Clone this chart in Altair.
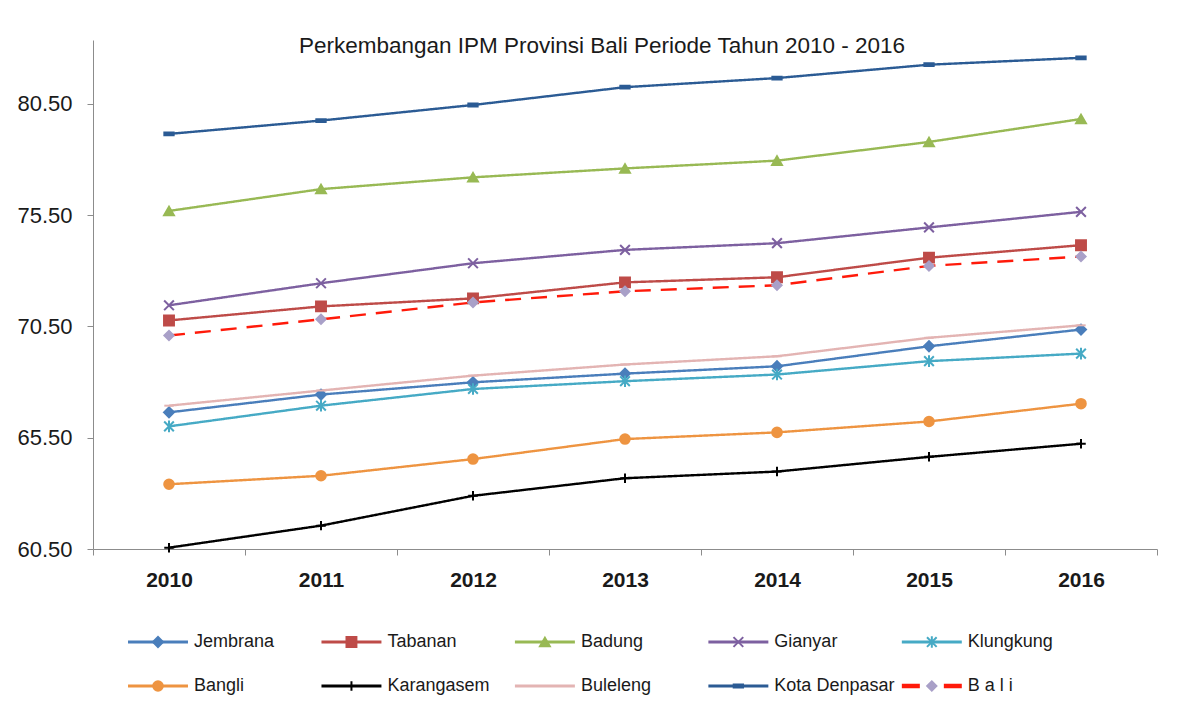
import altair as alt
import pandas as pd

# ---------------- data ----------------
years = ["2010", "2011", "2012", "2013", "2014", "2015", "2016"]
series_names = ["Jembrana", "Tabanan", "Badung", "Gianyar", "Klungkung",
                "Bangli", "Karangasem", "Buleleng", "Kota Denpasar", "B a l i"]

jembrana = [66.64, 67.44, 67.99, 68.38, 68.71, 69.61, 70.36]
tabanan = [70.77, 71.40, 71.76, 72.48, 72.71, 73.59, 74.15]
badung = [75.69, 76.67, 77.20, 77.60, 77.95, 78.79, 79.82]
gianyar = [71.45, 72.44, 73.34, 73.94, 74.24, 74.95, 75.65]
klungkung = [66.01, 66.94, 67.69, 68.04, 68.34, 68.94, 69.28]
bangli = [63.41, 63.79, 64.54, 65.44, 65.74, 66.23, 67.03]
karangasem = [60.56, 61.55, 62.89, 63.68, 63.98, 64.64, 65.23]
buleleng = [66.94, 67.62, 68.29, 68.79, 69.16, 69.99, 70.55]
kota_denpasar = [79.15, 79.75, 80.45, 81.25, 81.66, 82.26, 82.57]
bali = [70.09, 70.82, 71.58, 72.08, 72.35, 73.22, 73.64]

y_ticks = [60.5, 65.5, 70.5, 75.5, 80.5]
title_text = "Perkembangan IPM Provinsi Bali Periode Tahun 2010 - 2016"

legend_col = [0, 1, 2, 3, 4, 0, 1, 2, 3, 4]
legend_row = [0, 0, 0, 0, 0, 1, 1, 1, 1, 1]

# ---------------- styles ----------------
line_colors = ["#4A7EBB", "#BE4B48", "#98B954", "#7D60A0", "#46AAC5",
               "#EE9441", "#000000", "#E3B4B3", "#2B5B94", "#FF1A0A"]
marker_colors = ["#4A7EBB", "#BE4B48", "#98B954", "#7D60A0", "#46AAC5",
                 "#EE9441", "#000000", "#E3B4B3", "#2B5B94", "#A9A0C8"]
marker_shapes = [
    "diamond",
    "square",
    "triangle-up",
    "M-1,-1L1,1M-1,1L1,-1",
    "M-1,-1L1,1M-1,1L1,-1M0,-1.2L0,1.2",
    "circle",
    "M-1,0L1,0M0,-1L0,1",
    "M-1,0L1,0",
    "M-1,-0.3L1,-0.3L1,0.3L-1,0.3Z",
    "diamond",
]
marker_sizes = [100, 85, 100, 85, 85, 160, 90, 80, 110, 190]
line_widths = [2.4, 2.4, 2.4, 2.4, 2.4, 2.4, 2.4, 2.2, 2.6, 4.5]
line_dashes = [[1, 0]] * 9 + [[16, 10]]

values = [jembrana, tabanan, badung, gianyar, klungkung,
          bangli, karangasem, buleleng, kota_denpasar, bali]
rows = []
for name, vals in zip(series_names, values):
    for yr, v in zip(years, vals):
        rows.append({"year": yr, "series": name, "value": v})
df = pd.DataFrame(rows)

leg = pd.DataFrame({"series": series_names, "col": legend_col, "row": legend_row})

FONT = "Liberation Sans"
TXT = "#1a1a1a"
AX = "#8c8c8c"

color_scale = alt.Scale(domain=series_names, range=line_colors)
fill_scale = alt.Scale(domain=series_names, range=marker_colors)
shape_scale = alt.Scale(domain=series_names, range=marker_shapes)
size_scale = alt.Scale(domain=series_names, range=marker_sizes)

x_enc = alt.X(
    "year:O",
    sort=years,
    scale=alt.Scale(type="band", paddingInner=0, paddingOuter=0),
    axis=alt.Axis(title=None, labelAngle=0, tickBand="extent", tickSize=6,
                  tickColor=AX, domainColor=AX, labelFontSize=21, labelFont=FONT,
                  labelFontWeight="bold", labelColor=TXT, labelPadding=14, grid=False),
)
y_enc = alt.Y(
    "value:Q",
    scale=alt.Scale(domain=[60.5, 83.37], nice=False, zero=False),
    axis=alt.Axis(title=None, values=y_ticks, format=".2f", tickSize=6,
                  tickColor=AX, domainColor=AX, labelFontSize=22, labelFont=FONT,
                  labelColor=TXT, labelPadding=15, grid=False),
)

lines = alt.Chart(df).mark_line().encode(
    x=x_enc,
    y=y_enc,
    color=alt.Color("series:N", scale=color_scale, legend=None),
    strokeDash=alt.StrokeDash("series:N", scale=alt.Scale(domain=series_names, range=line_dashes), legend=None),
    strokeWidth=alt.StrokeWidth("series:N", scale=alt.Scale(domain=series_names, range=line_widths), legend=None),
)

points = alt.Chart(df).mark_point(filled=True, opacity=1, strokeWidth=2).encode(
    x=x_enc,
    y=y_enc,
    shape=alt.Shape("series:N", scale=shape_scale, legend=None),
    fill=alt.Fill("series:N", scale=fill_scale, legend=None),
    stroke=alt.Stroke("series:N", scale=fill_scale, legend=None),
    size=alt.Size("series:N", scale=size_scale, legend=None),
)

main = alt.layer(lines, points).properties(
    width=1064,
    height=509,
    title=alt.Title(title_text, fontSize=22.5, font=FONT, fontWeight="normal",
                    color=TXT, anchor="middle", baseline="top", offset=0, dy=17, dx=-23),
)

# ---------------- custom legend ----------------
lx = alt.X("col:Q", scale=alt.Scale(domain=[-0.181, 5.319], nice=False, zero=False), axis=None)
ly = alt.Y("row:Q", scale=alt.Scale(domain=[-0.705, 1.568], nice=False, zero=False, reverse=True), axis=None)

leg_base = alt.Chart(leg).transform_calculate(
    xe="datum.col + 0.31", xm="datum.col + 0.155"
)

leg_rules = leg_base.transform_filter("datum.series != 'B a l i'").mark_rule(strokeWidth=3).encode(
    x=lx, x2="xe:Q", y=ly,
    color=alt.Color("series:N", scale=color_scale, legend=None),
)
leg_bali = leg_base.transform_filter("datum.series == 'B a l i'").mark_rule(
    strokeWidth=4.5, strokeDash=[18, 24], color="#FF1A0A"
).encode(x=lx, x2="xe:Q", y=ly)

leg_points = leg_base.mark_point(filled=True, opacity=1, strokeWidth=2).encode(
    x=alt.X("xm:Q", scale=alt.Scale(domain=[-0.181, 5.319], nice=False, zero=False), axis=None),
    y=ly,
    shape=alt.Shape("series:N", scale=shape_scale, legend=None),
    fill=alt.Fill("series:N", scale=fill_scale, legend=None),
    stroke=alt.Stroke("series:N", scale=fill_scale, legend=None),
    size=alt.Size("series:N", scale=size_scale, legend=None),
)

leg_text = leg_base.mark_text(align="left", baseline="middle", dx=6, fontSize=18,
                              font=FONT, color=TXT).encode(
    x=alt.X("xe:Q", scale=alt.Scale(domain=[-0.181, 5.319], nice=False, zero=False), axis=None),
    y=ly,
    text="series:N",
)

legend = alt.layer(leg_rules, leg_bali, leg_points, leg_text).properties(width=1064, height=100)

chart = alt.vconcat(main, legend, spacing=21).properties(
    padding={"left": 8, "top": 26, "right": 10, "bottom": 0},
    background="white",
).configure_view(strokeWidth=0)

chart.save("out.html", embed_options={"renderer": "svg", "actions": False})
